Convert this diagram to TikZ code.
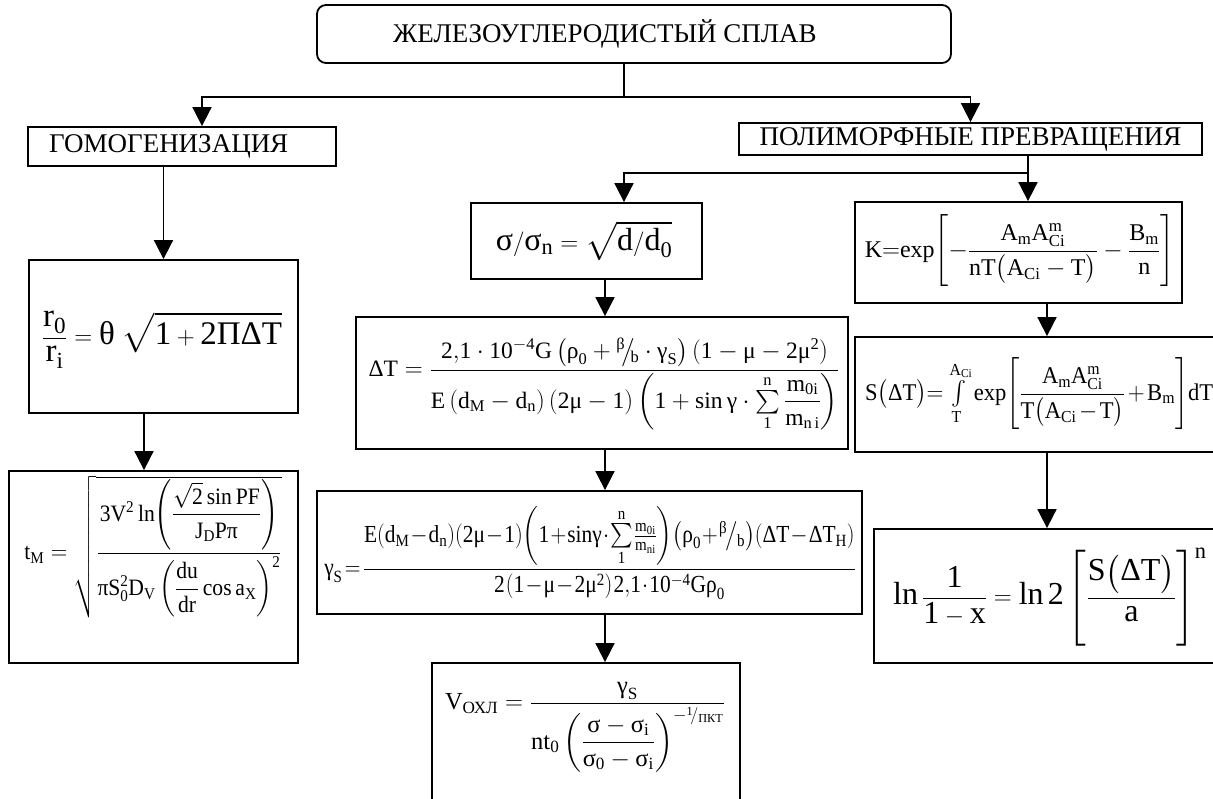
\documentclass[tikz,border=0pt]{standalone}
\usepackage{amsmath, amssymb}
\usepackage{fontspec}
\setmainfont{Liberation Serif}
\usetikzlibrary{positioning, arrows.meta}

\begin{document}
\begin{tikzpicture}[x=1pt, y=-1pt,
  hbox/.style={draw, line width=1.8pt, inner sep=0pt},
  fbox/.style={draw, line width=1.8pt, inner sep=0pt},
  htext/.style={font=\fontsize{27}{32}\selectfont, inner sep=0pt},
  ftext/.style={inner sep=0pt},
  link/.style={line width=1.8pt},
  arr/.style={line width=1.8pt, -{Triangle[length=19pt, width=19pt]}},
]
  \useasboundingbox (0,0) rectangle (1213,798);

  % headers
  \node[hbox, rounded corners=9pt, minimum width=634pt, minimum height=58pt] (alloy) at (634,34) {};
  \node[htext, anchor=west] (alloy-t) at (393,34) {ЖЕЛЕЗОУГЛЕРОДИСТЫЙ СПЛАВ};
  \node[hbox, minimum width=308pt, minimum height=39pt] (homo) at (182,146.5) {};
  \node[htext, anchor=west] (homo-t) at (49,146.5) {ГОМОГЕНИЗАЦИЯ};
  \node[hbox, htext, minimum width=463pt, minimum height=32pt] (poly) at (970.5,139) {ПОЛИМОРФНЫЕ ПРЕВРАЩЕНИЯ};

  % formula boxes
  \node[fbox, minimum width=269pt, minimum height=153pt] (radius) at (163.5,336.5) {};
  \node[fbox, minimum width=289pt, minimum height=192pt] (melt) at (153.5,567) {};
  \node[fbox, minimum width=231pt, minimum height=76pt] (stress) at (586.5,241) {};
  \node[fbox, minimum width=492pt, minimum height=132pt] (dtemp) at (602,383) {};
  \node[fbox, minimum width=545pt, minimum height=123pt] (gamma) at (589.5,552.5) {};
  \node[fbox, minimum width=308pt, minimum height=157pt] (vcool) at (586,741.5) {};
  \node[fbox, minimum width=327pt, minimum height=101pt] (kin) at (1018.5,252.5) {};
  \node[fbox, minimum width=375pt, minimum height=115pt] (sdt) at (1042.5,394.5) {};
  \node[fbox, minimum width=356pt, minimum height=134pt] (frac) at (1052,596) {};

  % formulas
  \node[ftext, font=\fontsize{33}{40}\selectfont] (radius-f) at (162,340)
    {$\mathrm{\dfrac{r_0}{r_i} = \text{θ}\;\sqrt{1+2\text{ΠΔ}T}}$};
  \node[ftext, font=\fontsize{23.5}{28}\selectfont, xscale=0.92] (melt-f) at (153,547)
    {$\mathrm{t_M = \sqrt{\dfrac{3V^2\,ln\!\left(\dfrac{\sqrt{2}\,sin\,PF}{J_DP\text{π}}\right)}{\text{π}S_0^2D_V\left(\dfrac{du}{dr}\,cos\,a_X\right)^{2}}}}$};
  \node[ftext, font=\fontsize{32}{38}\selectfont] (stress-f) at (584,241)
    {$\mathrm{\text{σ}/\text{σ}_n = \sqrt{d/d_0}}$};
  \node[ftext, font=\fontsize{23.5}{28}\selectfont] (dtemp-f) at (604,384)
    {$\mathrm{\text{Δ}T = \dfrac{2{,}1\cdot 10^{-4}G\left(\text{ρ}_0+{}^{\text{β}}\!\big/\!{}_{b}\cdot\text{γ}_S\right)\left(1-\text{μ}-2\text{μ}^2\right)}{E\left(d_M-d_n\right)\left(2\text{μ}-1\right)\left(1+sin\,\text{γ}\cdot\sum\limits_{1}^{n}\dfrac{m_{0i}}{m_{n\,i}}\right)}}$};
  \node[ftext, font=\fontsize{24.5}{29}\selectfont, xscale=0.875] (gamma-f) at (590,553)
    {\thinmuskip=1mu\medmuskip=1mu\thickmuskip=2mu$\mathrm{\text{γ}_S=\dfrac{E\!\left(d_M-d_n\right)\!\left(2\text{μ}-1\right)\!\left(1+sin\text{γ}\cdot\sum\limits_{1}^{n}\tfrac{m_{0i}}{m_{ni}}\right)\!\left(\text{ρ}_0+{}^{\text{β}}\!\big/\!{}_{b}\right)\!\left(\text{Δ}T-\text{Δ}T_H\right)}{2\left(1-\text{μ}-2\text{μ}^2\right)2{,}1\cdot10^{-4}G\text{ρ}_0}}$};
  \node[ftext, font=\fontsize{24.5}{29}\selectfont] (vcool-f) at (585,727)
    {$\mathrm{V_{\text{ОХЛ}} = \dfrac{\text{γ}_S}{nt_0\left(\dfrac{\text{σ}-\text{σ}_i}{\text{σ}_0-\text{σ}_i}\right)^{-{}^{1}\!/{}_{\text{ПКТ}}}}}$};
  \node[ftext, font=\fontsize{24}{29}\selectfont] (kin-f) at (1019.5,251)
    {$\mathrm{K{=}exp\!\left[-\dfrac{A_mA_{Ci}^{m}}{nT\bigl(A_{Ci}-T\bigr)}-\dfrac{B_m}{n}\right]}$};
  \node[ftext, font=\fontsize{24}{29}\selectfont, xscale=0.94, anchor=west] (sdt-f) at (865,394)
    {\medmuskip=2mu\thickmuskip=3mu$\mathrm{S\bigl(\text{Δ}T\bigr){=}\int\limits_{T}^{A_{Ci}}exp\!\left[\dfrac{A_mA_{Ci}^{m}}{T\bigl(A_{Ci}-T\bigr)}+B_m\right]\!dT}$};
  \node[ftext, font=\fontsize{32}{38}\selectfont, anchor=west] (frac-f) at (893,597)
    {$\mathrm{ln\,\dfrac{1}{1-x} = ln\,2\left[\dfrac{S\bigl(\text{Δ}T\bigr)}{a}\right]^{n}}$};

  % connectors
  \coordinate (split) at (624,97);
  \coordinate (split2) at (1028,173);
  \draw[link] (alloy.south -| split) -- (split);
  \draw[arr] (split) -| ([xshift=20pt]homo.north);
  \draw[arr] (split) -| (poly.north);
  \draw[link] (poly.south -| split2) -- (split2);
  \draw[arr] (split2) -| ([xshift=37.5pt]stress.north);
  \draw[arr] (split2) -- (split2 |- kin.north);
  \draw[arr] (homo.south -| radius.north) -- (radius.north);
  \draw[arr] ([xshift=-19.5pt]radius.south) -- ([xshift=-19.5pt]radius.south |- melt.north);
  \draw[arr] ([xshift=18.5pt]stress.south) -- ([xshift=18.5pt]stress.south |- dtemp.north);
  \draw[arr] ([xshift=3pt]dtemp.south) -- ([xshift=3pt]dtemp.south |- gamma.north);
  \draw[arr] ([xshift=15.5pt]gamma.south) -- ([xshift=15.5pt]gamma.south |- vcool.north);
  \draw[arr] ([xshift=28.5pt]kin.south) -- ([xshift=28.5pt]kin.south |- sdt.north);
  \draw[arr] ([xshift=4.5pt]sdt.south) -- ([xshift=4.5pt]sdt.south |- frac.north);
\end{tikzpicture}
\end{document}
